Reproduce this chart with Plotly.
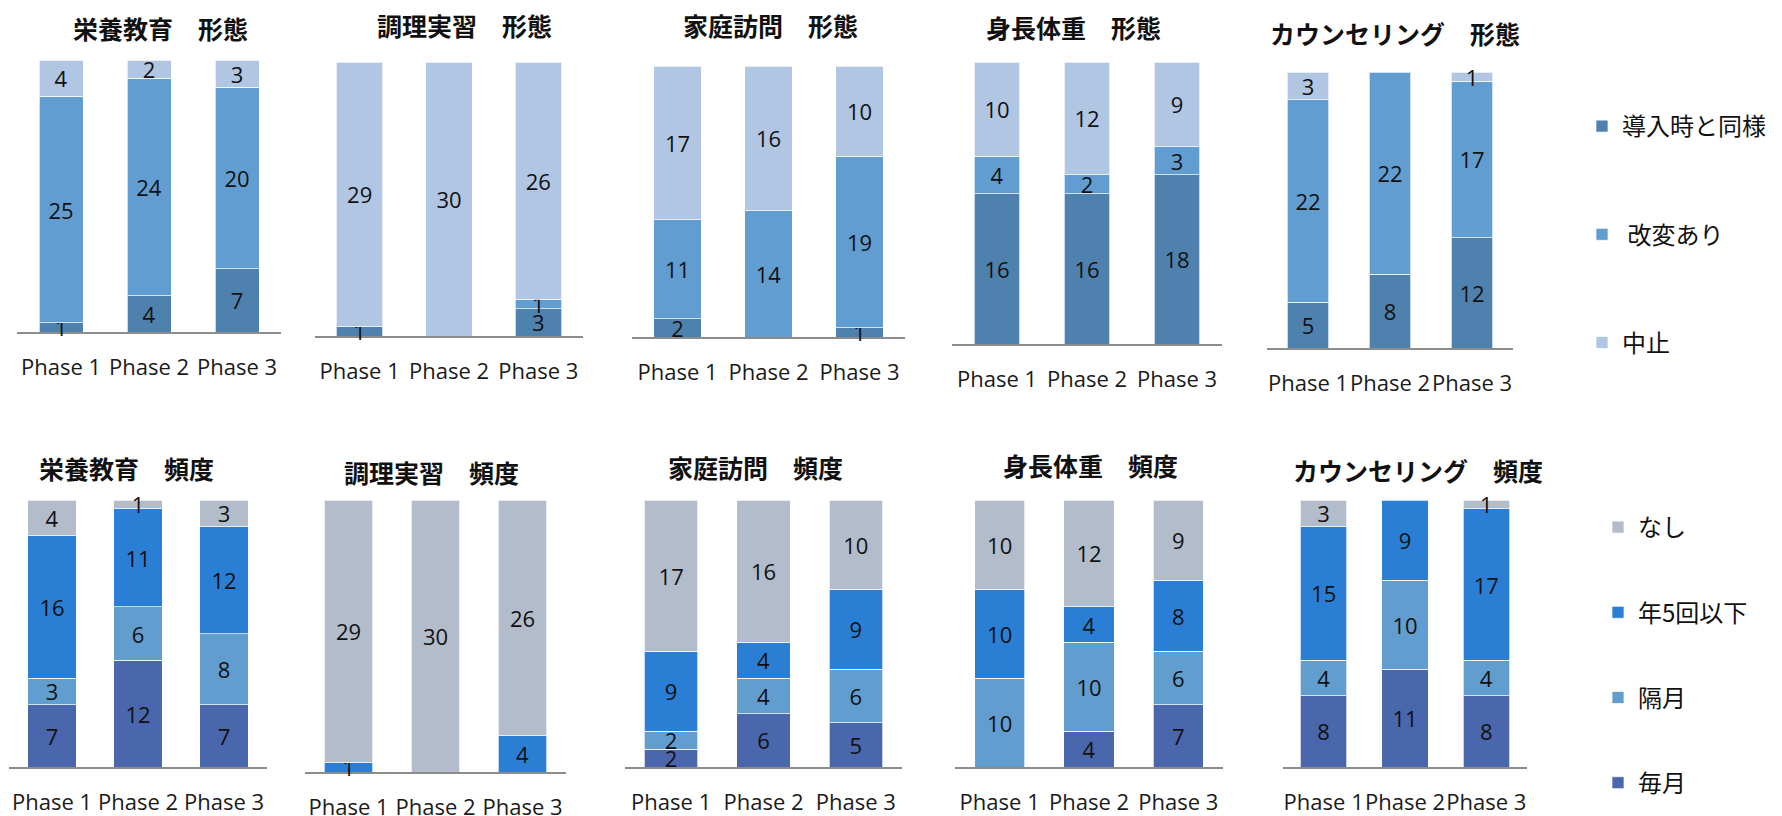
import plotly.graph_objects as go

# ---- data -------------------------------------------------------------
phases = ["Phase 1", "Phase 2", "Phase 3"]
programs = ["栄養教育", "調理実習", "家庭訪問", "身長体重", "カウンセリング"]

# 形態 (form of delivery)
form_names = ["導入時と同様", " 改変あり", "中止"]
form_same = [[1, 4, 7], [1, 0, 3], [2, 0, 1], [16, 16, 18], [5, 8, 12]]
form_changed = [[25, 24, 20], [0, 0, 1], [11, 14, 19], [4, 2, 3], [22, 22, 17]]
form_stopped = [[4, 2, 3], [29, 30, 26], [17, 16, 10], [10, 12, 9], [3, 0, 1]]

# 頻度 (frequency)
freq_names = ["毎月", "隔月", "年5回以下", "なし"]
freq_monthly = [[7, 12, 7], [0, 0, 0], [2, 6, 5], [0, 4, 7], [8, 11, 8]]
freq_bimonthly = [[3, 6, 8], [0, 0, 0], [2, 4, 6], [10, 10, 6], [4, 10, 4]]
freq_le5 = [[16, 11, 12], [1, 0, 4], [9, 4, 9], [10, 4, 8], [15, 9, 17]]
freq_none = [[4, 1, 3], [29, 30, 26], [17, 16, 10], [10, 12, 9], [3, 0, 1]]

form_colors = ["#4F81AF", "#619DD1", "#B0C6E3"]
freq_colors = ["#4A66AC", "#629DCF", "#2A7FD5", "#B3BCCB"]

# ---- layout geometry (pixels) -----------------------------------------
W, H = 1782, 816
# x0, x1, y_top, y_base for each panel
top_boxes = [(17, 281, 60, 332), (315, 583, 62, 336), (632, 905, 66, 337),
             (952, 1222, 62, 344), (1267, 1513, 72, 348)]
bot_boxes = [(9, 267, 500, 767), (305, 566, 500, 772), (625, 902, 500, 767),
             (955, 1223, 500, 767), (1283, 1527, 500, 767)]
top_widths = [0.5, 0.52, 0.52, 0.51, 0.51]
bot_widths = [0.56, 0.56, 0.58, 0.56, 0.57]
top_titles_xy = [(160, 28), (465, 25), (770, 25), (1073, 27), (1395, 33)]
bot_titles_xy = [(127, 468), (431, 472), (755, 467), (1090, 465), (1418, 470)]

FONT = "Open Sans, Noto Sans CJK JP, sans-serif"
TITLE_FONT = "Noto Sans CJK JP, sans-serif"

fig = go.Figure()
annotations = []
layout_axes = {}


def px_x(v):
    return v / W


def px_y(v):
    return 1 - v / H


def add_panel(idx, box, width, series, names, colors, ranks, legend, title, title_xy):
    ax = "" if idx == 1 else str(idx)
    x0, x1, yt, yb = box
    layout_axes["xaxis" + ax] = dict(
        domain=[px_x(x0), px_x(x1)], anchor="y" + ax,
        type="category", range=[-0.5, 2.5],
        showline=True, linecolor="#8C8C8C", linewidth=2,
        layer="below traces",
        showgrid=False, zeroline=False, ticks="",
        ticklabelstandoff=15, tickangle=0, automargin=False,
        tickfont=dict(family=FONT, size=22, color="#1a1a1a"),
        fixedrange=True,
    )
    layout_axes["yaxis" + ax] = dict(
        domain=[px_y(yb), px_y(yt)], anchor="x" + ax,
        range=[0, 30], visible=False, fixedrange=True, automargin=False,
    )
    for vals, name, color, rank in zip(series, names, colors, ranks):
        fig.add_trace(go.Bar(
            x=phases,
            y=[v if v else None for v in vals],
            text=[str(v) if v else "" for v in vals],
            name=name,
            marker=dict(color=color, line=dict(color="rgba(255,255,255,0.7)", width=1)),
            width=width,
            textposition="inside",
            insidetextanchor="middle",
            textangle=0,
            textfont=dict(family=FONT, size=22, color="#111111"),
            cliponaxis=False,
            xaxis="x" + ax, yaxis="y" + ax,
            legend=legend, legendgroup=legend + name, legendrank=rank,
            showlegend=(idx in (1, 6)),
            hoverinfo="skip",
        ))
    annotations.append(dict(
        text=title, x=px_x(title_xy[0]), y=px_y(title_xy[1]),
        xref="paper", yref="paper", xanchor="center", yanchor="middle",
        showarrow=False,
        font=dict(family=TITLE_FONT, size=25, color="#111111", weight="bold"),
    ))


for i, prog in enumerate(programs):
    add_panel(i + 1, top_boxes[i], top_widths[i],
              [form_same[i], form_changed[i], form_stopped[i]],
              form_names, form_colors, [1, 2, 3], "legend",
              prog + "　形態", top_titles_xy[i])

for i, prog in enumerate(programs):
    add_panel(i + 6, bot_boxes[i], bot_widths[i],
              [freq_monthly[i], freq_bimonthly[i], freq_le5[i], freq_none[i]],
              freq_names, freq_colors, [4, 3, 2, 1], "legend2",
              prog + "　頻度", bot_titles_xy[i])

fig.update_layout(
    width=W, height=H,
    margin=dict(l=0, r=0, t=0, b=0, autoexpand=False),
    paper_bgcolor="white", plot_bgcolor="white",
    barmode="stack",
    uniformtext=dict(minsize=22, mode="show"),
    annotations=annotations,
    legend=dict(
        x=px_x(1582), y=px_y(104), xanchor="left", yanchor="top",
        traceorder="grouped", tracegroupgap=74,
        font=dict(family=TITLE_FONT, size=24, color="#111111"),
        bgcolor="rgba(0,0,0,0)",
    ),
    legend2=dict(
        x=px_x(1598), y=px_y(505), xanchor="left", yanchor="top",
        traceorder="grouped", tracegroupgap=51,
        font=dict(family=TITLE_FONT, size=24, color="#111111"),
        bgcolor="rgba(0,0,0,0)",
    ),
    **layout_axes,
)

fig.write_html("out.html")
